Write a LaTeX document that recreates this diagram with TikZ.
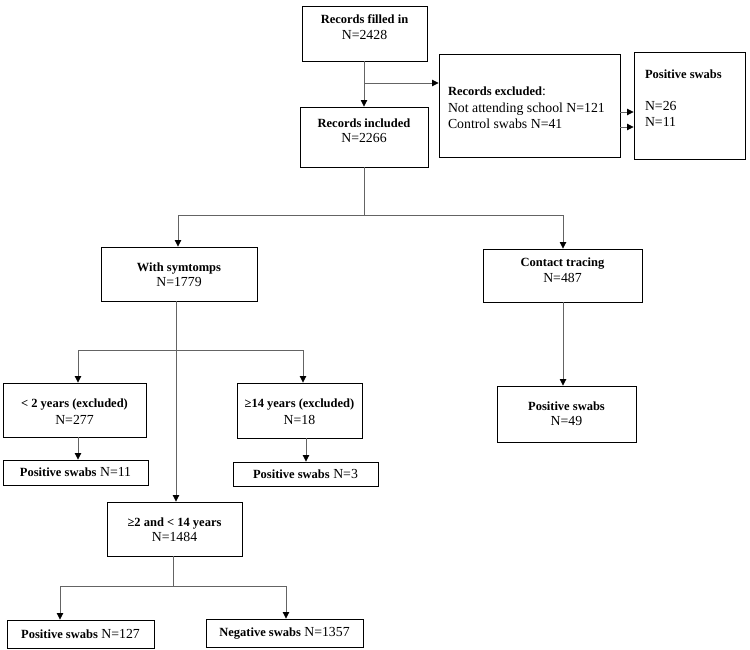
\documentclass[tikz,border=0pt]{standalone}
\usepackage{fontspec}
\setmainfont{Liberation Serif}
\usetikzlibrary{arrows.meta}
\newcommand\flowbx[5]{\parbox[c][#2pt][#5]{#1pt}{\vspace*{#3pt}#4}}
\tikzset{
  box/.style={draw=black, line width=0.9pt, rectangle, inner sep=0pt, font=\fontsize{13.8}{15.5}\selectfont},
  conn/.style={draw={rgb,255:red,100;green,100;blue,100}, line width=0.8pt},
  arr/.style={conn, -{Triangle[length=6.5pt,width=6.5pt,color=black]}},
}
\newcommand\ttl[1]{{\fontsize{12.5}{15.5}\selectfont\bfseries #1}}
\begin{document}
\begin{tikzpicture}[x=1pt,y=-1pt]
\useasboundingbox (0,0) rectangle (750,650);
% top boxes
\node[box] (fill) at (364.5,33.5) {\flowbx{125}{55}{9}{\centering\ttl{Records filled in}\\N=2428}{t}};
\node[box] (incl) at (364,137) {\flowbx{128}{60}{11.5}{\centering\ttl{Records included}\\N=2266}{t}};
\node[box] (excl) at (529.5,105.5) {\flowbx{181}{103}{33}{\fontsize{13.8}{16.5}\selectfont\hspace*{9pt}\ttl{Records excluded}:\\\hspace*{9pt}Not attending school N=121\\\hspace*{9pt}Control swabs N=41}{t}};
\node[box] (pos) at (689.5,105.5) {\flowbx{111}{107}{18}{\fontsize{13.8}{16}\selectfont\hspace*{11pt}\ttl{Positive swabs}\\[16pt]\hspace*{11pt}N=26\\\hspace*{11pt}N=11}{t}};
% second level
\node[box] (symp) at (179,274) {\flowbx{156}{54}{15.5}{\centering\ttl{With symtomps}\\N=1779}{t}};
\node[box] (contact) at (562.5,275.5) {\flowbx{159}{53}{9}{\centering\ttl{Contact tracing}\\N=487}{t}};
\node[box] (pos49) at (566.5,414) {\flowbx{139}{56}{15.5}{\centering\ttl{Positive swabs}\\N=49}{t}};
% third level
\node[box] (lt2) at (74.5,410) {\flowbx{143}{54}{15.5}{\centering\ttl{< 2 years (excluded)}\\[1.5pt]N=277}{t}};
\node[box] (ge14) at (299.5,410.5) {\flowbx{125}{55}{15.5}{\centering\ttl{≥14 years (excluded)}\\[1.5pt]N=18}{t}};
\node[box] (pos11) at (75.5,472.5) {\flowbx{145}{25}{0}{\centering\ttl{Positive swabs} N=11}{c}};
\node[box] (pos3) at (305.5,474) {\flowbx{145}{24}{0}{\centering\ttl{Positive swabs} N=3}{c}};
\node[box] (mid) at (174.5,529) {\flowbx{135}{54}{15.5}{\centering\ttl{≥2 and < 14 years}\\N=1484}{t}};
\node[box] (pos127) at (80.5,634) {\flowbx{147}{28}{0}{\centering\ttl{Positive swabs} N=127}{c}};
\node[box] (neg) at (284.5,633) {\flowbx{157}{28}{0}{\centering\ttl{Negative swabs} N=1357}{c}};
% junction coordinates
\coordinate (j1) at (364,83);
\coordinate (j2) at (364,215);
\coordinate (j2l) at (178,215);
\coordinate (j2r) at (563,215);
\coordinate (j3) at (176,350);
\coordinate (j3l) at (78,350);
\coordinate (j3r) at (303,350);
\coordinate (j4) at (173,586);
\coordinate (j4l) at (60,586);
\coordinate (j4r) at (286,586);
\coordinate (j5) at (306,440);
\coordinate (e1) at (620,112);
\coordinate (e2) at (620,127);
% connectors
\draw[arr] (fill.south -| j1) -- (j1 |- incl.north);
\draw[arr] (j1) -- (j1 -| excl.west);
\draw[arr] (e1) -- (e1 -| pos.west);
\draw[arr] (e2) -- (e2 -| pos.west);
\draw[conn] (incl.south -| j2) -- (j2);
\draw[conn] (j2l) -- (j2r);
\draw[arr] (j2l) -- (j2l |- symp.north);
\draw[arr] (j2r) -- (j2r |- contact.north);
\draw[arr] (contact.south -| j2r) -- (j2r |- pos49.north);
\draw[arr] (symp.south -| j3) -- (j3 |- mid.north);
\draw[conn] (j3l) -- (j3r);
\draw[arr] (j3l) -- (j3l |- lt2.north);
\draw[arr] (j3r) -- (j3r |- ge14.north);
\draw[arr] (lt2.south -| j3l) -- (j3l |- pos11.north);
\draw[arr] (ge14.south -| j5) -- (j5 |- pos3.north);
\draw[conn] (mid.south -| j4) -- (j4);
\draw[conn] (j4l) -- (j4r);
\draw[arr] (j4l) -- (j4l |- pos127.north);
\draw[arr] (j4r) -- (j4r |- neg.north);
\end{tikzpicture}
\end{document}
